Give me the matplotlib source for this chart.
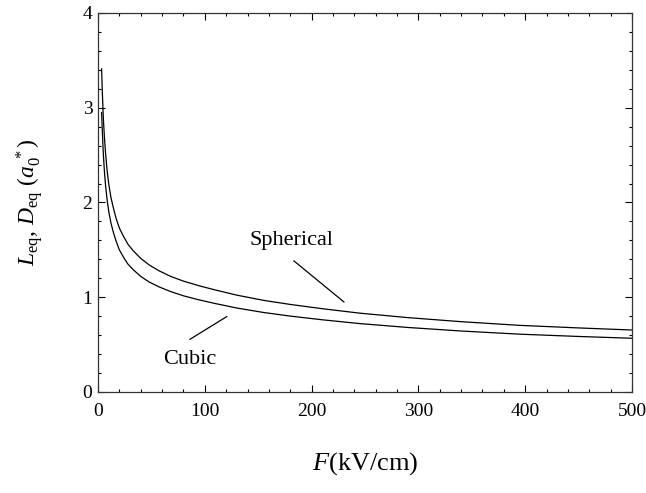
import numpy as np
import matplotlib
matplotlib.use("Agg")
import matplotlib.pyplot as plt
from matplotlib.ticker import MultipleLocator

plt.rcParams['font.family'] = ['Liberation Serif', 'DejaVu Serif']
plt.rcParams['mathtext.fontset'] = 'custom'
plt.rcParams['mathtext.rm'] = 'Liberation Serif'
plt.rcParams['mathtext.it'] = 'Liberation Serif:italic'

# field (kV/cm) and equilibrium size (a0*)
field = [3.4, 4, 5, 6, 7, 8.5, 10, 12, 14, 17, 20, 24, 28, 33, 40, 48, 57, 68, 80,
         95, 110, 130, 155, 180, 210, 245, 290, 340, 395, 450, 500]
d_spherical = [3.41, 3.18, 2.89, 2.69, 2.53, 2.34, 2.20, 2.06, 1.96, 1.83, 1.73, 1.64,
               1.56, 1.49, 1.41, 1.34, 1.28, 1.22, 1.17, 1.12, 1.076, 1.022, 0.967,
               0.924, 0.879, 0.832, 0.785, 0.742, 0.703, 0.676, 0.654]
l_cubic = [2.95, 2.76, 2.51, 2.33, 2.19, 2.03, 1.91, 1.79, 1.70, 1.59, 1.50, 1.42,
           1.35, 1.29, 1.22, 1.16, 1.11, 1.06, 1.015, 0.971, 0.933, 0.886, 0.839,
           0.801, 0.762, 0.722, 0.681, 0.6435, 0.61, 0.586, 0.567]

fig = plt.figure(figsize=(6.46, 4.93), dpi=100)
ax = fig.add_axes([0.1517, 0.2049, 0.8266, 0.7688])

ax.plot(field, d_spherical, color='black', lw=0.9)
ax.plot(field, l_cubic, color='black', lw=0.9)

# labels with leader lines
ax.text(181.6, 1.60, 'Spherical', fontsize=16, ha='center', va='center')
ax.plot([183.5, 230.3], [1.383, 0.95], color='black', lw=0.9)
ax.text(86, 0.34, 'Cubic', fontsize=16, ha='center', va='center')
ax.plot([86.1, 120.5], [0.556, 0.795], color='black', lw=0.9)

ax.set_xlim(0, 500)
ax.set_ylim(0, 4)
ax.xaxis.set_major_locator(MultipleLocator(100))
ax.xaxis.set_minor_locator(MultipleLocator(20))
ax.yaxis.set_major_locator(MultipleLocator(1))
ax.yaxis.set_minor_locator(MultipleLocator(0.2))
ax.tick_params(which='both', direction='in', top=True, right=True, labelsize=14, width=0.8)
ax.tick_params(axis='x', which='major', length=5, pad=8)
ax.tick_params(axis='y', which='major', length=5, pad=4)
ax.tick_params(which='minor', length=2.5)
for s in ax.spines.values():
    s.set_linewidth(0.9)
    s.set_color('#333333')

ax.set_xlabel(r'$F$(kV/cm)', fontsize=19, labelpad=22)
ax.set_ylabel(r'$L_{\rm eq}$, $D_{\rm eq}$ ($a_0^{\ *}$)', fontsize=17, labelpad=26)

fig.savefig('out.png', dpi=100)
